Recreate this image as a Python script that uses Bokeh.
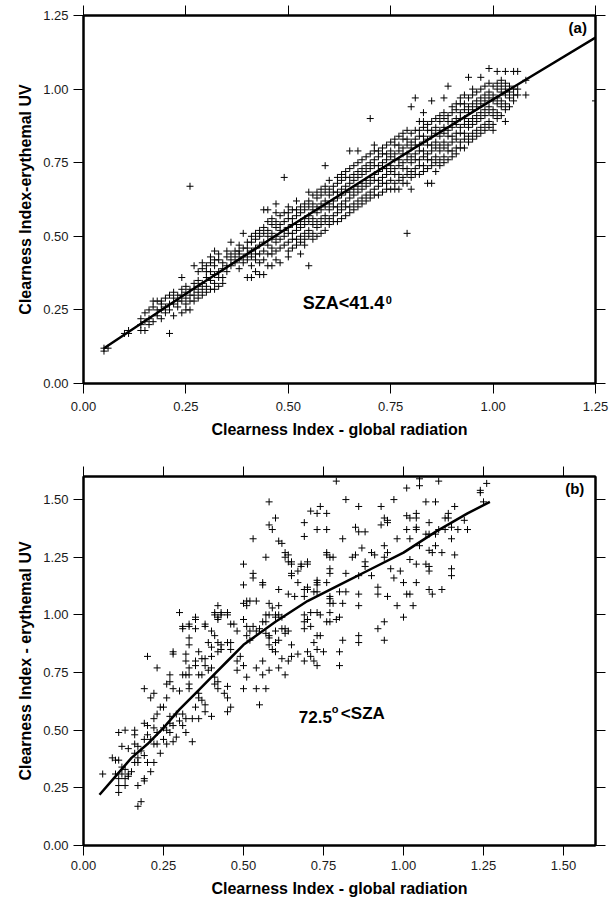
from bokeh.plotting import figure
from bokeh.layouts import column
from bokeh.models import LinearAxis, FixedTicker, NumeralTickFormatter, Label, Range1d
from bokeh.embed import file_html
from bokeh.resources import INLINE

FONT = "Liberation Sans"

# ---------------- Panel (a) data: SZA < 41.4 ----------------
a_ticks = [0.0, 0.25, 0.5, 0.75, 1.0, 1.25]
a_cols_x = [0.05, 0.06, 0.10, 0.11, 0.14, 0.15, 0.16, 0.17, 0.18, 0.19,
            0.20, 0.21, 0.22, 0.23, 0.24, 0.25, 0.26, 0.27, 0.28, 0.29,
            0.30, 0.31, 0.32, 0.33, 0.34, 0.35, 0.36, 0.37, 0.38, 0.39,
            0.40, 0.41, 0.42, 0.43, 0.44, 0.45, 0.46, 0.47, 0.48, 0.49,
            0.50, 0.51, 0.52, 0.53, 0.54, 0.55, 0.56, 0.57, 0.58, 0.59,
            0.60, 0.61, 0.62, 0.63, 0.64, 0.65, 0.66, 0.67, 0.68, 0.69,
            0.70, 0.71, 0.72, 0.73, 0.74, 0.75, 0.76, 0.77, 0.78, 0.79,
            0.80, 0.81, 0.82, 0.83, 0.84, 0.85, 0.86, 0.87, 0.88, 0.89,
            0.90, 0.91, 0.92, 0.93, 0.94, 0.95, 0.96, 0.97, 0.98, 0.99,
            1.00, 1.01, 1.02, 1.03, 1.04, 1.05, 1.06, 1.08, 1.25]
a_cols_y = [
    [0.11, 0.12], [0.12], [0.17], [0.17, 0.18], [0.18, 0.20, 0.22],
    [0.18, 0.21, 0.24], [0.20, 0.22, 0.25], [0.21, 0.26, 0.28], [0.23, 0.25, 0.28], [0.22, 0.25, 0.27, 0.28],
    [0.24, 0.26, 0.29], [0.17, 0.25, 0.27, 0.30], [0.23, 0.27, 0.29, 0.31], [0.26, 0.28, 0.30], [0.24, 0.28, 0.30, 0.32, 0.36],
    [0.25, 0.27, 0.29, 0.31, 0.33], [0.25, 0.28, 0.30, 0.32, 0.67], [0.28, 0.30, 0.32, 0.34, 0.40], [0.29, 0.31, 0.33, 0.35, 0.38], [0.30, 0.32, 0.34, 0.39, 0.41],
    [0.31, 0.33, 0.36, 0.38, 0.40], [0.32, 0.35, 0.38, 0.41, 0.43], [0.32, 0.34, 0.37, 0.40, 0.42, 0.45], [0.33, 0.36, 0.38, 0.42, 0.44], [0.34, 0.36, 0.39, 0.41],
    [0.38, 0.40, 0.43, 0.45], [0.40, 0.42, 0.44, 0.48], [0.41, 0.43, 0.45], [0.39, 0.42, 0.44, 0.45, 0.47], [0.41, 0.43, 0.46, 0.51],
    [0.36, 0.42, 0.44, 0.46, 0.48], [0.36, 0.40, 0.43, 0.45, 0.48, 0.50], [0.38, 0.42, 0.44, 0.46, 0.49, 0.51], [0.37, 0.41, 0.44, 0.47, 0.50, 0.52], [0.37, 0.42, 0.45, 0.48, 0.51, 0.53, 0.59],
    [0.40, 0.44, 0.47, 0.50, 0.52, 0.55, 0.59], [0.40, 0.44, 0.46, 0.49, 0.51, 0.54, 0.56], [0.42, 0.45, 0.48, 0.50, 0.53, 0.55, 0.58, 0.61], [0.41, 0.46, 0.49, 0.52, 0.54, 0.57], [0.47, 0.50, 0.52, 0.55, 0.58, 0.70],
    [0.43, 0.45, 0.48, 0.51, 0.53, 0.56, 0.58, 0.60], [0.46, 0.49, 0.51, 0.54, 0.56, 0.59], [0.47, 0.49, 0.52, 0.54, 0.57, 0.59, 0.62], [0.44, 0.48, 0.50, 0.53, 0.55, 0.58, 0.60], [0.47, 0.49, 0.51, 0.54, 0.56, 0.59, 0.61],
    [0.40, 0.50, 0.52, 0.55, 0.57, 0.60, 0.62, 0.65], [0.49, 0.51, 0.54, 0.56, 0.59, 0.61, 0.64], [0.50, 0.53, 0.55, 0.58, 0.60, 0.63, 0.65], [0.51, 0.54, 0.56, 0.59, 0.61, 0.64, 0.66], [0.52, 0.55, 0.57, 0.60, 0.62, 0.65, 0.67, 0.74],
    [0.54, 0.56, 0.59, 0.61, 0.64, 0.66, 0.69], [0.55, 0.57, 0.60, 0.62, 0.65, 0.67], [0.55, 0.58, 0.60, 0.63, 0.65, 0.68, 0.70], [0.56, 0.59, 0.61, 0.64, 0.66, 0.69, 0.71], [0.57, 0.60, 0.62, 0.65, 0.67, 0.70, 0.72],
    [0.58, 0.60, 0.63, 0.65, 0.68, 0.70, 0.73, 0.79], [0.59, 0.61, 0.64, 0.66, 0.69, 0.71, 0.74], [0.60, 0.62, 0.65, 0.67, 0.70, 0.72, 0.75, 0.79], [0.61, 0.63, 0.66, 0.68, 0.71, 0.73, 0.76], [0.62, 0.64, 0.67, 0.69, 0.72, 0.74, 0.77],
    [0.63, 0.65, 0.68, 0.70, 0.73, 0.75, 0.78, 0.90], [0.64, 0.66, 0.69, 0.71, 0.74, 0.76, 0.79, 0.81], [0.64, 0.67, 0.69, 0.72, 0.74, 0.77, 0.79], [0.65, 0.68, 0.70, 0.73, 0.75, 0.78, 0.80], [0.66, 0.68, 0.71, 0.73, 0.76, 0.78, 0.81],
    [0.66, 0.69, 0.72, 0.74, 0.77, 0.79, 0.82], [0.66, 0.68, 0.71, 0.73, 0.76, 0.78, 0.81, 0.83], [0.66, 0.69, 0.71, 0.74, 0.76, 0.79, 0.81, 0.84], [0.68, 0.70, 0.73, 0.75, 0.78, 0.80, 0.83, 0.85], [0.51, 0.68, 0.71, 0.73, 0.76, 0.78, 0.81, 0.83, 0.86],
    [0.66, 0.70, 0.72, 0.75, 0.77, 0.80, 0.82, 0.85, 0.94], [0.71, 0.73, 0.76, 0.78, 0.81, 0.83, 0.86, 0.97], [0.71, 0.74, 0.76, 0.79, 0.81, 0.84, 0.86, 0.89], [0.72, 0.74, 0.77, 0.79, 0.82, 0.84, 0.87, 0.89, 0.92], [0.68, 0.73, 0.76, 0.78, 0.81, 0.83, 0.86, 0.88],
    [0.68, 0.74, 0.76, 0.79, 0.81, 0.84, 0.86, 0.89, 0.96], [0.72, 0.75, 0.77, 0.80, 0.82, 0.85, 0.87, 0.90], [0.74, 0.76, 0.79, 0.81, 0.84, 0.86, 0.89, 0.91], [0.75, 0.77, 0.80, 0.82, 0.85, 0.87, 0.90, 0.92, 0.97], [0.76, 0.79, 0.81, 0.84, 0.86, 0.89, 0.91, 1.01],
    [0.77, 0.79, 0.82, 0.84, 0.87, 0.89, 0.92, 0.94], [0.78, 0.80, 0.83, 0.85, 0.88, 0.90, 0.93, 0.95], [0.80, 0.82, 0.85, 0.87, 0.90, 0.92, 0.95, 0.97], [0.80, 0.83, 0.85, 0.88, 0.90, 0.93, 0.95, 0.98], [0.82, 0.84, 0.87, 0.89, 0.92, 0.94, 0.97, 1.04],
    [0.83, 0.85, 0.88, 0.90, 0.93, 0.95, 0.98, 1.00], [0.84, 0.86, 0.89, 0.91, 0.94, 0.96, 0.99], [0.85, 0.87, 0.90, 0.92, 0.95, 0.97, 1.00, 1.04], [0.86, 0.88, 0.91, 0.93, 0.96, 0.98, 1.01], [0.87, 0.89, 0.92, 0.94, 0.97, 0.99, 1.02, 1.07],
    [0.86, 0.88, 0.91, 0.93, 0.96, 0.98, 1.01], [0.90, 0.92, 0.95, 0.97, 1.00, 1.02, 1.06], [0.91, 0.94, 0.96, 0.99, 1.01, 1.03], [0.89, 0.93, 0.95, 0.98, 1.00, 1.02, 1.06], [0.94, 0.97, 0.99, 1.01],
    [0.96, 0.98, 1.00, 1.06], [0.98, 1.00, 1.06], [0.98, 1.03], [0.96],
]
a_fit_x = [0.05, 0.25, 0.50, 0.75, 1.00, 1.25]
a_fit_y = [0.12, 0.305, 0.53, 0.75, 0.965, 1.175]

# ---------------- Panel (b) data: 72.5 < SZA ----------------
b_ticks = [0.0, 0.25, 0.5, 0.75, 1.0, 1.25, 1.5]
b_points = [
    (0.06, 0.31), (0.09, 0.38), (0.10, 0.31), (0.10, 0.37), (0.11, 0.29), (0.11, 0.26), (0.11, 0.23), (0.11, 0.37), (0.11, 0.49),
    (0.12, 0.34), (0.12, 0.31), (0.12, 0.43), (0.13, 0.33), (0.13, 0.29), (0.13, 0.26), (0.13, 0.50), (0.14, 0.31), (0.14, 0.30),
    (0.14, 0.42), (0.15, 0.32), (0.16, 0.36), (0.16, 0.40), (0.16, 0.44), (0.16, 0.48), (0.16, 0.50), (0.17, 0.36), (0.17, 0.38),
    (0.17, 0.43), (0.17, 0.26), (0.17, 0.17), (0.18, 0.19), (0.18, 0.41), (0.19, 0.39), (0.19, 0.29), (0.19, 0.28), (0.19, 0.46),
    (0.19, 0.53), (0.19, 0.68), (0.20, 0.36), (0.20, 0.48), (0.20, 0.52), (0.20, 0.82), (0.21, 0.32), (0.21, 0.46), (0.21, 0.64),
    (0.22, 0.36), (0.22, 0.44), (0.22, 0.51), (0.22, 0.55), (0.22, 0.66), (0.23, 0.44), (0.23, 0.49), (0.23, 0.57), (0.23, 0.77),
    (0.24, 0.40), (0.24, 0.60), (0.25, 0.46), (0.25, 0.51), (0.25, 0.60), (0.26, 0.44), (0.26, 0.50), (0.26, 0.64), (0.26, 0.70),
    (0.27, 0.49), (0.27, 0.53), (0.27, 0.56), (0.27, 0.71), (0.27, 0.74), (0.28, 0.45), (0.28, 0.52), (0.28, 0.68), (0.28, 0.83),
    (0.28, 0.84), (0.29, 0.47), (0.29, 0.57), (0.30, 0.54), (0.30, 0.67), (0.30, 1.01), (0.31, 0.52), (0.31, 0.57), (0.31, 0.74),
    (0.31, 0.94), (0.31, 0.95), (0.32, 0.49), (0.32, 0.55), (0.32, 0.74), (0.32, 0.80), (0.32, 0.83), (0.33, 0.68), (0.33, 0.70),
    (0.33, 0.74), (0.33, 0.77), (0.33, 0.87), (0.33, 0.90), (0.33, 0.95), (0.33, 0.96), (0.34, 0.45), (0.34, 0.55), (0.35, 0.60),
    (0.35, 0.78), (0.35, 0.80), (0.35, 0.94), (0.35, 0.98), (0.35, 0.99), (0.36, 0.55), (0.36, 0.64), (0.36, 0.66), (0.36, 0.74),
    (0.36, 0.84), (0.37, 0.63), (0.37, 0.74), (0.37, 0.81), (0.38, 0.58), (0.38, 0.61), (0.38, 0.78), (0.38, 0.81), (0.38, 0.95),
    (0.38, 0.96), (0.39, 0.76), (0.39, 0.88), (0.40, 0.56), (0.40, 0.77), (0.40, 0.82), (0.40, 0.86), (0.40, 0.93), (0.41, 0.70),
    (0.41, 0.73), (0.41, 0.91), (0.41, 1.00), (0.41, 1.01), (0.42, 0.68), (0.42, 0.71), (0.42, 0.84), (0.42, 0.88), (0.42, 0.98),
    (0.42, 0.99), (0.42, 1.04), (0.43, 0.85), (0.43, 0.87), (0.43, 1.00), (0.43, 1.01), (0.44, 0.66), (0.45, 0.58), (0.45, 0.64),
    (0.45, 0.69), (0.45, 0.88), (0.45, 1.00), (0.45, 1.01), (0.46, 0.60), (0.46, 0.85), (0.46, 0.88), (0.46, 0.96), (0.47, 0.96),
    (0.48, 0.76), (0.48, 0.80), (0.48, 0.93), (0.49, 0.82), (0.50, 0.68), (0.50, 0.78), (0.50, 0.98), (0.50, 1.05), (0.50, 1.13),
    (0.50, 1.22), (0.51, 0.73), (0.51, 0.91), (0.51, 0.95), (0.51, 1.04), (0.51, 1.06), (0.52, 0.89), (0.52, 0.93), (0.52, 1.06),
    (0.53, 0.95), (0.53, 1.16), (0.53, 1.18), (0.53, 1.33), (0.54, 0.68), (0.54, 0.77), (0.54, 0.93), (0.54, 1.06), (0.55, 0.61),
    (0.55, 0.94), (0.56, 0.74), (0.56, 0.80), (0.56, 0.97), (0.56, 1.13), (0.56, 1.14), (0.57, 0.68), (0.57, 0.92), (0.57, 0.97),
    (0.57, 1.00), (0.57, 1.25), (0.58, 0.76), (0.58, 0.87), (0.58, 0.90), (0.58, 0.91), (0.58, 1.00), (0.58, 1.05), (0.58, 1.39),
    (0.58, 1.49), (0.59, 0.85), (0.59, 1.03), (0.59, 1.37), (0.60, 0.84), (0.60, 0.88), (0.60, 0.93), (0.60, 0.99), (0.60, 1.00),
    (0.60, 1.42), (0.61, 0.77), (0.61, 0.89), (0.61, 1.00), (0.61, 1.04), (0.61, 1.11), (0.61, 1.32), (0.62, 0.81), (0.62, 0.94),
    (0.62, 0.99), (0.62, 1.31), (0.63, 0.74), (0.63, 0.92), (0.63, 0.94), (0.63, 1.25), (0.63, 1.27), (0.64, 0.80), (0.64, 0.93),
    (0.64, 1.09), (0.64, 1.23), (0.64, 1.26), (0.65, 0.82), (0.65, 0.87), (0.65, 1.17), (0.65, 1.18), (0.65, 1.22), (0.65, 1.23),
    (0.66, 1.08), (0.67, 0.83), (0.67, 1.14), (0.67, 1.19), (0.68, 1.21), (0.68, 1.22), (0.69, 0.80), (0.69, 0.94), (0.69, 0.97),
    (0.69, 1.00), (0.69, 1.08), (0.69, 1.11), (0.69, 1.34), (0.69, 1.40), (0.70, 0.84), (0.70, 0.98), (0.70, 1.11), (0.70, 1.12),
    (0.70, 1.22), (0.70, 1.23), (0.71, 0.82), (0.71, 0.95), (0.71, 1.01), (0.71, 1.45), (0.72, 0.80), (0.72, 0.88), (0.72, 1.10),
    (0.73, 0.78), (0.73, 0.85), (0.73, 0.91), (0.73, 1.01), (0.73, 1.10), (0.73, 1.13), (0.73, 1.14), (0.73, 1.15), (0.73, 1.37),
    (0.73, 1.44), (0.74, 0.91), (0.74, 1.00), (0.74, 1.47), (0.75, 0.84), (0.76, 0.97), (0.76, 1.14), (0.76, 1.26), (0.76, 1.27),
    (0.76, 1.37), (0.76, 1.44), (0.77, 0.97), (0.77, 1.01), (0.77, 1.05), (0.77, 1.07), (0.77, 1.08), (0.77, 1.18), (0.77, 1.20),
    (0.77, 1.25), (0.78, 1.05), (0.78, 1.25), (0.79, 0.98), (0.79, 1.58), (0.80, 0.78), (0.80, 0.84), (0.80, 0.99), (0.80, 1.10),
    (0.81, 0.89), (0.81, 1.05), (0.81, 1.33), (0.82, 1.10), (0.82, 1.18), (0.82, 1.50), (0.84, 1.25), (0.85, 1.26), (0.85, 1.38),
    (0.86, 0.88), (0.86, 0.91), (0.86, 1.04), (0.86, 1.09), (0.86, 1.17), (0.86, 1.36), (0.86, 1.47), (0.87, 1.29), (0.88, 1.21),
    (0.88, 1.23), (0.88, 1.36), (0.90, 1.17), (0.90, 1.27), (0.91, 1.26), (0.92, 0.94), (0.92, 1.09), (0.92, 1.12), (0.93, 1.39),
    (0.93, 1.47), (0.94, 0.89), (0.94, 0.97), (0.94, 1.25), (0.94, 1.30), (0.94, 1.42), (0.95, 1.08), (0.95, 1.27), (0.95, 1.40),
    (0.95, 1.41), (0.96, 1.20), (0.97, 1.16), (0.97, 1.50), (0.98, 1.04), (0.98, 1.33), (0.99, 1.19), (1.00, 0.99), (1.00, 1.14),
    (1.01, 1.09), (1.01, 1.37), (1.01, 1.43), (1.01, 1.55), (1.02, 1.09), (1.02, 1.24), (1.02, 1.33), (1.02, 1.42), (1.03, 1.04),
    (1.04, 1.14), (1.04, 1.22), (1.04, 1.37), (1.04, 1.38), (1.04, 1.42), (1.04, 1.44), (1.05, 1.30), (1.05, 1.56), (1.05, 1.59),
    (1.07, 1.22), (1.07, 1.35), (1.07, 1.49), (1.08, 1.11), (1.08, 1.19), (1.08, 1.21), (1.08, 1.28), (1.08, 1.35), (1.08, 1.40),
    (1.09, 1.09), (1.09, 1.27), (1.10, 1.30), (1.10, 1.35), (1.10, 1.49), (1.11, 1.37), (1.11, 1.58), (1.12, 1.11), (1.12, 1.27),
    (1.13, 1.37), (1.13, 1.42), (1.14, 1.42), (1.14, 1.44), (1.15, 1.17), (1.15, 1.20), (1.15, 1.33), (1.15, 1.38), (1.16, 1.26),
    (1.16, 1.47), (1.17, 1.37), (1.19, 1.41), (1.20, 1.37), (1.24, 1.53), (1.24, 1.54), (1.25, 1.49), (1.26, 1.57),
]
b_fit_x = [0.05, 0.10, 0.15, 0.20, 0.25, 0.30, 0.35, 0.40, 0.45, 0.50,
           0.55, 0.60, 0.70, 0.80, 0.90, 1.00, 1.10, 1.20, 1.27]
b_fit_y = [0.22, 0.30, 0.38, 0.44, 0.51, 0.59, 0.66, 0.73, 0.80, 0.87,
           0.92, 0.97, 1.06, 1.13, 1.20, 1.27, 1.36, 1.44, 1.49]

a_x = [x for x, ys in zip(a_cols_x, a_cols_y) for _ in ys]
a_y = [y for ys in a_cols_y for y in ys]
b_x = [pt[0] for pt in b_points]
b_y = [pt[1] for pt in b_points]


def style_axis(ax, ticks, label_standoff, axis_standoff):
    ax.ticker = FixedTicker(ticks=ticks)
    ax.formatter = NumeralTickFormatter(format="0.00")
    ax.major_tick_out = 10
    ax.major_tick_in = 0
    ax.minor_tick_out = 0
    ax.minor_tick_in = 0
    ax.major_tick_line_color = "black"
    ax.major_tick_line_width = 1
    ax.axis_line_color = "black"
    ax.axis_line_width = 2
    ax.major_label_text_font = FONT
    ax.major_label_text_font_size = "13px"
    ax.major_label_text_color = "#1a1a1a"
    ax.major_label_standoff = label_standoff
    ax.axis_label_text_font = FONT
    ax.axis_label_text_font_size = "16px"
    ax.axis_label_text_font_style = "bold"
    ax.axis_label_text_color = "black"
    ax.axis_label_standoff = axis_standoff


def mirror_axis(p, ticks, side):
    ax = LinearAxis(ticker=FixedTicker(ticks=ticks),
                    major_label_overrides={t: "" for t in ticks},
                    major_label_text_font_size="0px",
                    major_label_standoff=0,
                    major_tick_out=10, major_tick_in=0,
                    minor_tick_out=0, minor_tick_in=0,
                    major_tick_line_color="black", major_tick_line_width=1,
                    axis_line_color="black", axis_line_width=2)
    p.add_layout(ax, side)


def make_panel(xmax, ymax, ticks, height, mb, xlabel, ylabel, xl_st, yl_st):
    p = figure(width=615, height=height,
               x_range=Range1d(0, xmax), y_range=Range1d(0, ymax),
               output_backend="svg", toolbar_location=None,
               min_border_left=mb[0], min_border_right=mb[1],
               min_border_top=mb[2], min_border_bottom=mb[3],
               x_axis_label=xlabel, y_axis_label=ylabel)
    p.grid.visible = False
    p.outline_line_color = "black"
    p.outline_line_width = 2
    p.background_fill_color = "white"
    p.border_fill_color = "white"
    style_axis(p.xaxis[0], ticks, 6, xl_st[0])
    style_axis(p.yaxis[0], ticks, 5, yl_st)
    p.xaxis[0].major_label_standoff = xl_st[1]
    mirror_axis(p, ticks, "above")
    mirror_axis(p, ticks, "right")
    return p


# Panel (a)
pa = make_panel(1.25, 1.25, a_ticks, 450, (79, 20, 15, 67),
                "Clearness Index - global radiation", "Clearness Index-erythemal UV",
                (7, 8), 6)
pa.line(a_fit_x, a_fit_y, line_color="black", line_width=2.5, line_join="round")
pa.scatter(a_x, a_y, marker="cross", size=7, line_color="black", line_width=1)
pa.add_layout(Label(x=0.535, y=0.238, text="SZA<41.4", text_font=FONT,
                    text_font_size="18px", text_font_style="bold", text_color="black"))
pa.add_layout(Label(x=0.535, y=0.238, x_offset=83, y_offset=9, text="0", text_font=FONT,
                    text_font_size="11px", text_font_style="bold", text_color="black"))
pa.add_layout(Label(x=1.229, y=1.182, text="(a)", text_font=FONT, text_align="right",
                    text_font_size="15px", text_font_style="bold", text_color="black"))

# Panel (b)
pb = make_panel(1.6, 1.6, b_ticks, 453, (83, 16, 26, 58),
                "Clearness Index - global radiation", "Clearness Index - erythemal UV",
                (7, 5), 6)
pb.line(b_fit_x, b_fit_y, line_color="black", line_width=2.5, line_join="round")
pb.scatter(b_x, b_y, marker="cross", size=7, line_color="black", line_width=1)
pb.add_layout(Label(x=0.673, y=0.532, text="72.5", text_font=FONT,
                    text_font_size="17px", text_font_style="bold", text_color="black"))
pb.add_layout(Label(x=0.673, y=0.532, x_offset=33, y_offset=8, text="o", text_font=FONT,
                    text_font_size="11px", text_font_style="bold", text_color="black"))
pb.add_layout(Label(x=0.673, y=0.532, x_offset=42, text="<SZA", text_font=FONT,
                    text_font_size="17px", text_font_style="bold", text_color="black"))
pb.add_layout(Label(x=1.565, y=1.513, text="(b)", text_font=FONT, text_align="right",
                    text_font_size="15px", text_font_style="bold", text_color="black"))

layout = column(pa, pb, spacing=0)
open("out.html", "w").write(file_html(layout, INLINE))
